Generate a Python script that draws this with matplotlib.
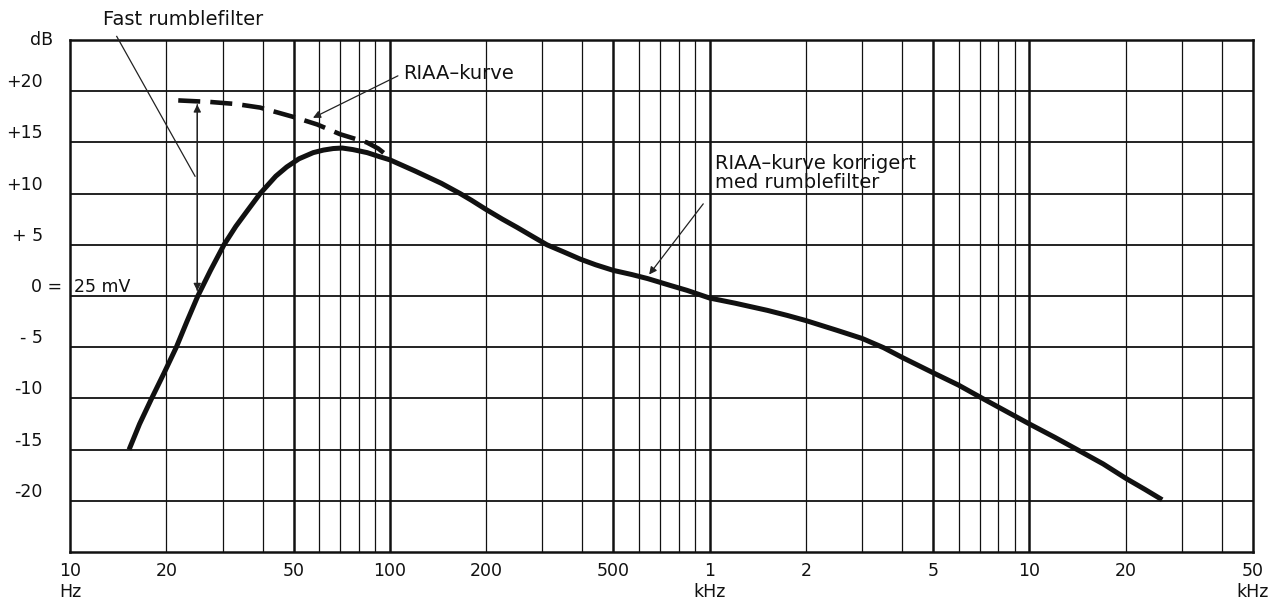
import matplotlib.pyplot as plt
from matplotlib import transforms
from matplotlib.ticker import NullLocator

# RIAA-kurve korrigert med rumblefilter (solid line)
freq_corr = [15.3, 16.5, 18.0, 19.7, 21.5, 23.2, 25.1, 27.5, 30.3, 33, 35.8, 39.3,
             44, 47.6, 52, 57.6, 62, 66.5, 71, 76.6, 85, 93, 100, 120, 145, 166,
             180, 200, 225, 250, 280, 310, 350, 394, 440, 500, 570, 640, 750, 850,
             1000, 1200, 1514, 1750, 2000, 2500, 3000, 3500, 4000, 5000, 6000,
             7130, 8500, 10000, 12000, 14100, 17000, 20000, 23000, 26000]
db_corr = [-15.0, -12.5, -10.0, -7.5, -5.0, -2.5, 0.0, 2.5, 5.0, 6.8, 8.3, 10.0,
           11.7, 12.6, 13.4, 14.0, 14.25, 14.4, 14.45, 14.3, 14.0, 13.6, 13.3, 12.2,
           11.0, 10.0, 9.35, 8.45, 7.5, 6.7, 5.8, 5.0, 4.3, 3.6, 3.05, 2.5, 2.1, 1.7,
           1.05, 0.55, -0.2, -0.7, -1.4, -1.9, -2.4, -3.35, -4.15, -5.05, -6.0, -7.5,
           -8.7, -10.0, -11.3, -12.5, -13.8, -15.0, -16.4, -17.8, -18.9, -19.9]

# RIAA-kurve (dashed) at low frequencies
freq_riaa = [21.8, 27.4, 33, 39.3, 49.8, 59.3, 69.9, 84.7, 92, 100]
db_riaa = [19.1, 18.95, 18.75, 18.4, 17.5, 16.75, 15.8, 15.0, 14.4, 13.5]

# axis labels
xtick_vals = [10, 20, 50, 100, 200, 500, 1000, 2000, 5000, 10000, 20000, 50000]
xtick_labels = ["10\nHz", "20", "50", "100", "200", "500", "1\nkHz", "2", "5",
                "10", "20", "50\nkHz"]
ytick_vals = [20, 15, 10, 5, -5, -10, -15, -20]
ytick_labels = ["+20", "+15", "+10", "+ 5", "- 5", "-10", "-15", "-20"]

# grid of the printed log paper
grid_thin = [20, 30, 40, 60, 70, 80, 90, 200, 300, 400, 600, 700, 800, 900,
             2000, 3000, 4000, 6000, 7000, 8000, 9000, 20000, 30000, 40000]
grid_thick = [50, 100, 500, 1000, 5000, 10000]
grid_db = [-20, -15, -10, -5, 0, 5, 10, 15, 20]

ink = "#111111"
plt.rcParams['font.family'] = ['DejaVu Sans']

fig = plt.figure(figsize=(12.8, 6.03), dpi=100)
ax = fig.add_axes([70 / 1280, 1 - 552 / 603, (1253 - 70) / 1280, (552 - 40) / 603])
ax.set_xscale('log')
ax.set_xlim(10, 50000)
ax.set_ylim(-25, 25)

for f in grid_thin:
    ax.axvline(f, color=ink, lw=0.9, zorder=1)
for f in grid_thick:
    ax.axvline(f, color=ink, lw=1.8, zorder=1)
for d in grid_db:
    ax.axhline(d, color=ink, lw=1.3, zorder=1)
for s in ax.spines.values():
    s.set_linewidth(1.8)
    s.set_color(ink)

ax.plot(freq_corr, db_corr, color=ink, lw=3.6, solid_capstyle='butt',
        solid_joinstyle='round', zorder=3)
ax.plot(freq_riaa, db_riaa, color=ink, lw=3.3, linestyle=(0, (4.8, 2.2)),
        dash_capstyle='butt', dash_joinstyle='round', zorder=3)

# x ticks
ax.xaxis.set_minor_locator(NullLocator())
ax.set_xticks(xtick_vals)
ax.set_xticklabels(xtick_labels, fontsize=12.5, color=ink, linespacing=1.25)
ax.tick_params(axis='x', length=0, pad=7)

# y labels drawn sitting just above their grid lines
ax.set_yticks([])
ytrans = transforms.blended_transform_factory(ax.transAxes, ax.transData)
for v, lab in zip(ytick_vals, ytick_labels):
    ax.text(-0.023, v, lab, transform=ytrans, ha='right', va='bottom',
            fontsize=12.5, color=ink)
ax.text(-0.0068, 0, "0 =", transform=ytrans, ha='right', va='bottom',
        fontsize=12.5, color=ink)
ax.text(0.003, 0, "25 mV", transform=ytrans, ha='left', va='bottom',
        fontsize=12.5, color=ink)
ax.text(-0.0144, 25, "dB", transform=ytrans, ha='right', va='center',
        fontsize=12.5, color=ink)

# annotations
thin = dict(color='#222222', lw=0.9)
ax.annotate("Fast rumblefilter", xy=(24.6, 11.7), xytext=(12.68, 27.0),
            ha='left', va='center', fontsize=14, color=ink,
            annotation_clip=False)
ax.plot([14.0, 24.6], [25.35, 11.7], clip_on=False, zorder=4, **thin)
ax.annotate("", xy=(25, 18.7), xytext=(25, 0.5),
            arrowprops=dict(arrowstyle='-|>', mutation_scale=11,
                            shrinkA=0, shrinkB=0, **thin), zorder=4)
ax.annotate("", xy=(25, 0.5), xytext=(25, 18.7),
            arrowprops=dict(arrowstyle='-|>', mutation_scale=11,
                            shrinkA=0, shrinkB=0, **thin), zorder=4)

ax.text(110, 21.75, "RIAA\u2013kurve", ha='left', va='center', fontsize=14,
        color=ink, zorder=5)
ax.annotate("", xy=(57.5, 17.4), xytext=(106, 21.5),
            arrowprops=dict(arrowstyle='-|>', mutation_scale=11,
                            shrinkA=0, shrinkB=0, **thin), zorder=4)

ax.text(1041, 12.0, "RIAA\u2013kurve korrigert\nmed rumblefilter", ha='left',
        va='center', fontsize=14, color=ink, linespacing=1.0, zorder=5)
ax.annotate("", xy=(647, 2.1), xytext=(955, 9.0),
            arrowprops=dict(arrowstyle='-|>', mutation_scale=11,
                            shrinkA=0, shrinkB=0, **thin), zorder=4)

fig.savefig("out.png", dpi=100)
